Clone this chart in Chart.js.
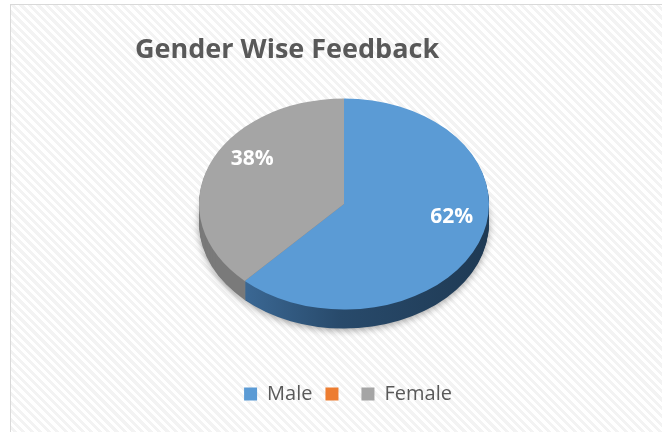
<!DOCTYPE html>
<html>
<head>
<meta charset="utf-8">
<script src="https://cdn.jsdelivr.net/npm/chart.js@4.4.1/dist/chart.umd.min.js"></script>
<style>
  html, body { margin: 0; padding: 0; background: #fff; }
  #wrap { position: relative; width: 662px; height: 432px; overflow: hidden; background: #fff; }
  #frame {
    position: absolute; left: 10px; top: 4px; width: 700px; height: 480px;
    border: 1px solid #d9d9d9;
    background: repeating-linear-gradient(45deg, #ffffff 0 3px, #f3f3f3 3px 6px);
  }
  #chart { position: absolute; left: 0; top: 0; }
</style>
</head>
<body>
<div id="wrap">
  <div id="frame"></div>
  <canvas id="chart" width="662" height="432"></canvas>
</div>
<script>
const titleText = 'Gender Wise Feedback';
const labels = ['Male', '', 'Female'];
const values = [62, 0, 38];
const topColors = ['#5b9bd5', '#ed7d31', '#a5a5a5'];

// 3d look
const pieCenter = { x: 344, y: 204 };
const tilt = 0.728;
const depth = 19;

function sideFill(ctx, i) {
    if (i === 0) {
        const g = ctx.createLinearGradient(225, 0, 490, 0);
        g.addColorStop(0, '#3f6f9e');
        g.addColorStop(0.45, '#284a6b');
        g.addColorStop(1, '#1f3a54');
        return g;
    }
    if (i === 2) return '#7a7a7a';
    return '#b35a1f';
}

const pie3d = {
    id: 'pie3d',
    beforeDatasetsDraw(chart) {
        const ctx = chart.ctx;
        const arcs = chart.getDatasetMeta(0).data;
        const a0 = arcs[0];
        ctx.save();
        ctx.translate(pieCenter.x, pieCenter.y);
        ctx.scale(1, tilt);
        ctx.translate(-a0.x, -a0.y);

        for (let d = depth; d > 0; d--) {
            arcs.forEach((arc, i) => {
                if (arc.circumference === 0) return;
                const oy = d / tilt;
                ctx.save();
                if (d === depth) {
                    ctx.shadowColor = 'rgba(0,0,0,0.35)';
                    ctx.shadowBlur = 7;
                    ctx.shadowOffsetY = 2;
                }
                ctx.beginPath();
                ctx.moveTo(arc.x, arc.y + oy);
                ctx.arc(arc.x, arc.y + oy, arc.outerRadius, arc.startAngle, arc.endAngle);
                ctx.closePath();
                ctx.fillStyle = sideFill(ctx, i);
                ctx.fill();
                ctx.restore();
            });
        }
    },
    afterDatasetsDraw(chart) {
        const ctx = chart.ctx;
        ctx.restore();

        // percent labels
        const arcs = chart.getDatasetMeta(0).data;
        const total = values.reduce((s, v) => s + v, 0);
        ctx.save();
        ctx.fillStyle = '#ffffff';
        ctx.font = 'bold 21px "Open Sans"';
        ctx.textAlign = 'center';
        ctx.textBaseline = 'middle';
        arcs.forEach((arc, i) => {
            if (!values[i]) return;
            const mid = (arc.startAngle + arc.endAngle) / 2;
            const lr = arc.outerRadius * 0.74;
            const x = pieCenter.x + Math.cos(mid) * lr + 8;
            const y = pieCenter.y + Math.sin(mid) * lr * tilt - 16;
            ctx.fillText(Math.round(values[i] / total * 100) + '%', x, y);
        });
        ctx.restore();
    },
    afterDraw(chart) {
        const ctx = chart.ctx;
        ctx.save();
        ctx.fillStyle = '#595959';
        ctx.font = 'bold 27px "Open Sans"';
        ctx.textBaseline = 'alphabetic';
        ctx.fillText(titleText, 135, 58);
        ctx.restore();
    }
};

new Chart(document.getElementById('chart'), {
    type: 'pie',
    data: {
        labels: labels,
        datasets: [{
            data: values,
            backgroundColor: topColors,
            borderWidth: 0,
            radius: 145,
            clip: false
        }]
    },
    options: {
        responsive: false,
        animation: false,
        events: [],
        layout: { padding: { left: 34, top: 80, bottom: 18 } },
        plugins: {
            tooltip: { enabled: false },
            legend: {
                position: 'bottom',
                labels: {
                    boxWidth: 13,
                    boxHeight: 13,
                    padding: 13,
                    color: '#595959',
                    font: { family: 'Open Sans', size: 20 }
                }
            }
        }
    },
    plugins: [pie3d]
});
</script>
</body>
</html>
